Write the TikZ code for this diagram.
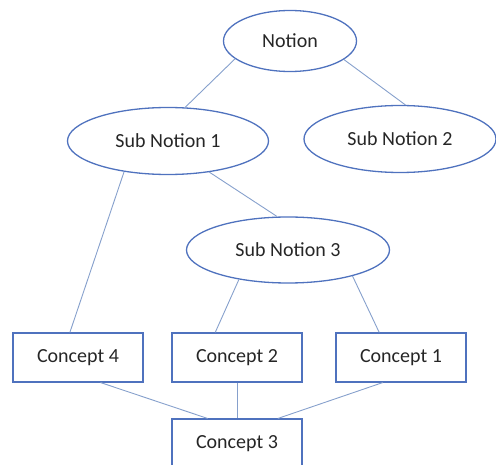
\documentclass[tikz,border=0pt]{standalone}
\usepackage{fontspec}
\setmainfont{Carlito}
\usetikzlibrary{shapes.geometric}
\definecolor{edgeblue}{HTML}{4F72BE}
\definecolor{linkblue}{HTML}{86A0CC}
\begin{document}
\begin{tikzpicture}[x=1pt,y=-1pt,
  notion/.style={ellipse,draw=edgeblue,line width=1.3pt,inner sep=0pt,
    minimum width=#1,font=\fontsize{20}{24}\selectfont,text=black!85},
  concept/.style={rectangle,draw=edgeblue,line width=1.1pt,inner sep=0pt,
    minimum width=130pt,minimum height=49pt,font=\fontsize{20}{24}\selectfont,text=black!85},
  link/.style={draw=linkblue,line width=0.9pt}]
\useasboundingbox (0,0) rectangle (496,465);
\clip (0,0) rectangle (496,465);
% ellipses for the notions
\node[notion=133pt,minimum height=61pt] (n)   at (290,41)  {Notion};
\node[notion=201pt,minimum height=67pt] (sn1) at (168,141) {Sub Notion 1};
\node[notion=192pt,minimum height=67pt] (sn2) at (400,139) {Sub Notion 2};
\node[notion=203pt,minimum height=66pt] (sn3) at (288,250) {Sub Notion 3};
% boxes for the concepts; the lowest one runs past the bottom edge
\node[concept] (c4) at (78,357.5)  {Concept 4};
\node[concept] (c2) at (237,357.5) {Concept 2};
\node[concept] (c1) at (401,357.5) {Concept 1};
\node[concept,minimum height=50pt] (c3) at (237,444) {Concept 3};
% links
\draw[link] (n.198) -- (sn1.63);
\draw[link] (n.-19) -- (sn2.81);
\draw[link] (sn1.-145) -- (c4.108);
\draw[link] (sn1.-37) -- (sn3.108);
\draw[link] (sn3.-149) -- (c2.131);
\draw[link] (sn3.-22) -- (c1.131);
\draw[link] (c4.-48) -- (c3.139);
\draw[link] (c2.south) -- (c3.north);
\draw[link] (c1.-126) -- (c3.32);
\end{tikzpicture}
\end{document}
